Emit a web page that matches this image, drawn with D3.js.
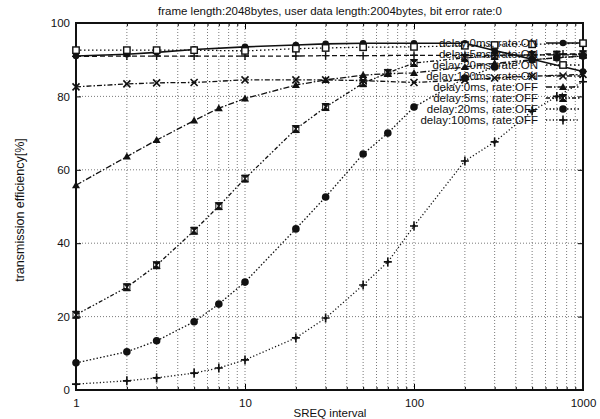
<!DOCTYPE html>
<html>
<head>
<meta charset="utf-8">
<script src="https://cdn.jsdelivr.net/npm/d3@7"></script>
<style>
  body { margin: 0; background: #fff; }
  text { font-family: "Liberation Sans", Arial, sans-serif; fill: #111; }
</style>
</head>
<body>
<div id="chart"></div>
<script>
// DATA //
const titleText = "frame length:2048bytes, user data length:2004bytes, bit error rate:0"
const xLabelText = "SREQ interval"
const yLabelText = "transmission efficiency[%]"

const xTicksMajor = [1, 10, 100, 1000]
const yTicks = [0, 20, 40, 60, 80, 100]

// SREQ intervals sampled
const xOn = [1, 2, 3, 5, 10, 20, 30, 50, 100, 200, 300, 500, 1000]
const xOff = [1, 2, 3, 5, 7, 10, 20, 30, 50, 70, 100, 200, 300, 500, 700, 1000]

const on0 = [91.0, 91.5, 92.0, 92.8, 93.5, 94.0, 94.3, 94.5, 94.5, 94.5, 92.5, 90.1, 86.8]
const on5 = [90.9, 91.0, 91.0, 91.0, 91.0, 91.0, 91.1, 91.1, 91.2, 91.2, 91.2, 91.3, 91.3]
const on20 = [92.6, 92.6, 92.6, 92.6, 92.4, 93.0, 93.2, 93.4, 93.5, 93.8, 94.0, 94.2, 94.5]
const on100 = [82.6, 83.4, 83.7, 83.8, 84.5, 84.5, 84.5, 84.3, 83.8, 84.5, 85.0, 85.5, 86.0]

const off0 = [55.8, 63.6, 68.1, 73.4, 76.8, 79.4, 83.1, 84.5, 85.8, 86.2, 86.4, 88.0, 89.0, 90.0, 90.5, 91.0]
const off5 = [20.5, 28.0, 34.0, 43.4, 50.1, 57.6, 71.1, 77.1, 83.6, 86.4, 89.1, 90.5, 91.0, 91.3, 91.4, 91.5]
const off20 = [7.4, 10.4, 13.4, 18.6, 23.4, 29.4, 43.9, 52.6, 64.3, 70.0, 77.1, 85.0, 88.0, 90.0, 90.5, 91.0]
const off100 = [1.6, 2.5, 3.3, 4.6, 6.0, 8.2, 14.2, 19.6, 28.6, 34.9, 44.7, 62.4, 67.6, 76.0, 80.0, 84.0]

const seriesNames = [
    "delay:0ms, rate:ON",
    "delay:5ms, rate:ON",
    "delay:20ms, rate:ON",
    "delay:100ms, rate:ON",
    "delay:0ms, rate:OFF",
    "delay:5ms, rate:OFF",
    "delay:20ms, rate:OFF",
    "delay:100ms, rate:OFF",
]

// GLOBAL VARIABLES //
let dimensions = {
    width: 600,
    height: 419,
    margin: {
        top: 23,
        right: 17,
        bottom: 29,
        left: 76,
    },
}
dimensions.boundedWidth = dimensions.width - dimensions.margin.left - dimensions.margin.right
dimensions.boundedHeight = dimensions.height - dimensions.margin.top - dimensions.margin.bottom

const xScale = d3.scaleLog()
    .domain([1, 1000])
    .range([0, dimensions.boundedWidth])

const yScale = d3.scaleLinear()
    .domain([0, 100])
    .range([dimensions.boundedHeight, 0])

// minor ticks 2..9 of each decade
const xTicksMinor = []
xTicksMajor.slice(0, -1).forEach(d => {
    for (let k = 2; k <= 9; k++) xTicksMinor.push(d * k)
})

// line dash + marker per series
const styles = [
    { dash: null, marker: "circle" },
    { dash: "5,3", marker: "plus" },
    { dash: "1.5,2.5", marker: "square" },
    { dash: "5,2,1.5,2", marker: "cross" },
    { dash: "6,2,1.5,2", marker: "triangle" },
    { dash: "4,2,1.5,2,1.5,2", marker: "boxcross" },
    { dash: "1.5,2", marker: "dot" },
    { dash: "1.2,2.2", marker: "star" },
]

const dataset = [
    xOn.map((x, i) => ({ x: x, y: on0[i] })),
    xOn.map((x, i) => ({ x: x, y: on5[i] })),
    xOn.map((x, i) => ({ x: x, y: on20[i] })),
    xOn.map((x, i) => ({ x: x, y: on100[i] })),
    xOff.map((x, i) => ({ x: x, y: off0[i] })),
    xOff.map((x, i) => ({ x: x, y: off5[i] })),
    xOff.map((x, i) => ({ x: x, y: off20[i] })),
    xOff.map((x, i) => ({ x: x, y: off100[i] })),
]

function drawMarker(g, type) {
    if (type == "circle") {
        g.append("circle").attr("r", 3.3).attr("fill", "#111")
    } else if (type == "plus") {
        g.append("path").attr("d", "M-4,0H4M0,-4V4")
            .attr("stroke", "#111").attr("stroke-width", 1.4)
    } else if (type == "square") {
        g.append("rect").attr("x", -3.2).attr("y", -3.2).attr("width", 6.4).attr("height", 6.4)
            .attr("fill", "#fff").attr("stroke", "#111").attr("stroke-width", 1.4)
    } else if (type == "cross") {
        g.append("path").attr("d", "M-3.5,-3.5L3.5,3.5M3.5,-3.5L-3.5,3.5")
            .attr("stroke", "#111").attr("stroke-width", 1.6)
    } else if (type == "triangle") {
        g.append("path").attr("d", "M0,-4L4,3L-4,3Z").attr("fill", "#111")
    } else if (type == "boxcross") {
        g.append("path").attr("d", "M-3.5,-3.5H3.5L-3.5,3.5H3.5Z").attr("fill", "#111")
            .attr("stroke", "#111").attr("stroke-width", 1)
        g.append("rect").attr("x", -3).attr("y", -3).attr("width", 6).attr("height", 6)
            .attr("fill", "none").attr("stroke", "#111").attr("stroke-width", 1)
    } else if (type == "dot") {
        g.append("circle").attr("r", 3.8).attr("fill", "#111")
    } else if (type == "star") {
        g.append("path").attr("d", "M-4,0H4M0,-4.5V4.5")
            .attr("stroke", "#111").attr("stroke-width", 1.6)
        g.append("circle").attr("r", 1.6).attr("fill", "#111")
    }
}

function drawChart() {
    const wrapper = d3.select("#chart")
        .append("svg")
        .attr("width", dimensions.width)
        .attr("height", dimensions.height)

    const bounds = wrapper.append("g")
        .style("transform", `translate(${dimensions.margin.left}px, ${dimensions.margin.top}px)`)

    // grid
    const grid = bounds.append("g")
        .attr("stroke", "#222")
        .attr("stroke-width", 0.8)
        .attr("stroke-dasharray", "1,2")
        .attr("opacity", 0.75)

    grid.selectAll(".vgrid")
        .data(xTicksMinor.concat([10, 100]))
        .join("line")
        .attr("x1", d => xScale(d)).attr("x2", d => xScale(d))
        .attr("y1", 0).attr("y2", dimensions.boundedHeight)

    grid.selectAll(".hgrid")
        .data(yTicks.slice(1, -1))
        .join("line")
        .attr("x1", 0).attr("x2", dimensions.boundedWidth)
        .attr("y1", d => yScale(d)).attr("y2", d => yScale(d))

    // axes
    const yAxisGenerator = d3.axisLeft(yScale)
        .tickValues(yTicks)
        .tickSizeInner(-5).tickSizeOuter(0)
        .tickPadding(6)
    const yAxis = bounds.append("g").call(yAxisGenerator)
    yAxis.select(".domain").remove()
    yAxis.selectAll("text").style("font-size", "11.5px").attr("font-family", null)

    const yAxisRight = bounds.append("g")
        .attr("transform", `translate(${dimensions.boundedWidth},0)`)
        .call(d3.axisRight(yScale).tickValues(yTicks).tickSizeInner(-5).tickSizeOuter(0).tickFormat(""))
    yAxisRight.select(".domain").remove()

    const xAxisGenerator = d3.axisBottom(xScale)
        .tickValues(xTicksMajor)
        .tickSizeInner(-6).tickSizeOuter(0)
        .tickPadding(9)
        .tickFormat(d3.format("d"))
    const xAxis = bounds.append("g")
        .attr("transform", `translate(0,${dimensions.boundedHeight})`)
        .call(xAxisGenerator)
    xAxis.select(".domain").remove()
    xAxis.selectAll("text").style("font-size", "11.5px").attr("font-family", null)

    const xMinor = bounds.append("g")
        .attr("transform", `translate(0,${dimensions.boundedHeight})`)
        .call(d3.axisBottom(xScale).tickValues(xTicksMinor).tickSizeInner(-3).tickSizeOuter(0).tickFormat(""))
    xMinor.select(".domain").remove()

    const xTop = bounds.append("g")
        .call(d3.axisTop(xScale).tickValues(xTicksMajor).tickSizeInner(-6).tickSizeOuter(0).tickFormat(""))
    xTop.select(".domain").remove()
    const xTopMinor = bounds.append("g")
        .call(d3.axisTop(xScale).tickValues(xTicksMinor).tickSizeInner(-3).tickSizeOuter(0).tickFormat(""))
    xTopMinor.select(".domain").remove()

    // border
    bounds.append("rect")
        .attr("width", dimensions.boundedWidth)
        .attr("height", dimensions.boundedHeight)
        .attr("fill", "none")
        .attr("stroke", "#111")
        .attr("stroke-width", 2)

    // lines
    const lineGenerator = d3.line()
        .x(d => xScale(d.x))
        .y(d => yScale(d.y))

    dataset.forEach((series, i) => {
        bounds.append("path")
            .datum(series)
            .attr("d", lineGenerator)
            .attr("fill", "none")
            .attr("stroke", "#111")
            .attr("stroke-width", i == 0 ? 1.6 : 1.3)
            .attr("stroke-dasharray", styles[i].dash)

        series.forEach(d => {
            const g = bounds.append("g")
                .attr("transform", `translate(${xScale(d.x)},${yScale(d.y)})`)
            drawMarker(g, styles[i].marker)
        })
    })

    // legend (text right-aligned at x=538, samples to the right)
    const legend = bounds.append("g")
        .attr("transform", `translate(${538 - dimensions.margin.left}, ${43 - dimensions.margin.top})`)

    seriesNames.forEach((name, i) => {
        const row = legend.append("g").attr("transform", `translate(0, ${i * 11})`)
        row.append("text")
            .attr("x", 0)
            .attr("y", 4)
            .attr("text-anchor", "end")
            .style("font-size", "11.5px")
            .text(name)
        row.append("line")
            .attr("x1", 8).attr("x2", 42)
            .attr("stroke", "#111")
            .attr("stroke-width", 1.3)
            .attr("stroke-dasharray", styles[i].dash)
        const m = row.append("g").attr("transform", "translate(25,0)")
        drawMarker(m, styles[i].marker)
    })

    // labels
    wrapper.append("text")
        .attr("x", 330)
        .attr("y", 15)
        .attr("text-anchor", "middle")
        .style("font-size", "11.5px")
        .text(titleText)

    wrapper.append("text")
        .attr("x", 330)
        .attr("y", 417)
        .attr("text-anchor", "middle")
        .style("font-size", "11.5px")
        .text(xLabelText)

    wrapper.append("text")
        .attr("transform", "translate(24, 210) rotate(-90)")
        .attr("text-anchor", "middle")
        .style("font-size", "12.5px")
        .text(yLabelText)
}

drawChart()
</script>
</body>
</html>
